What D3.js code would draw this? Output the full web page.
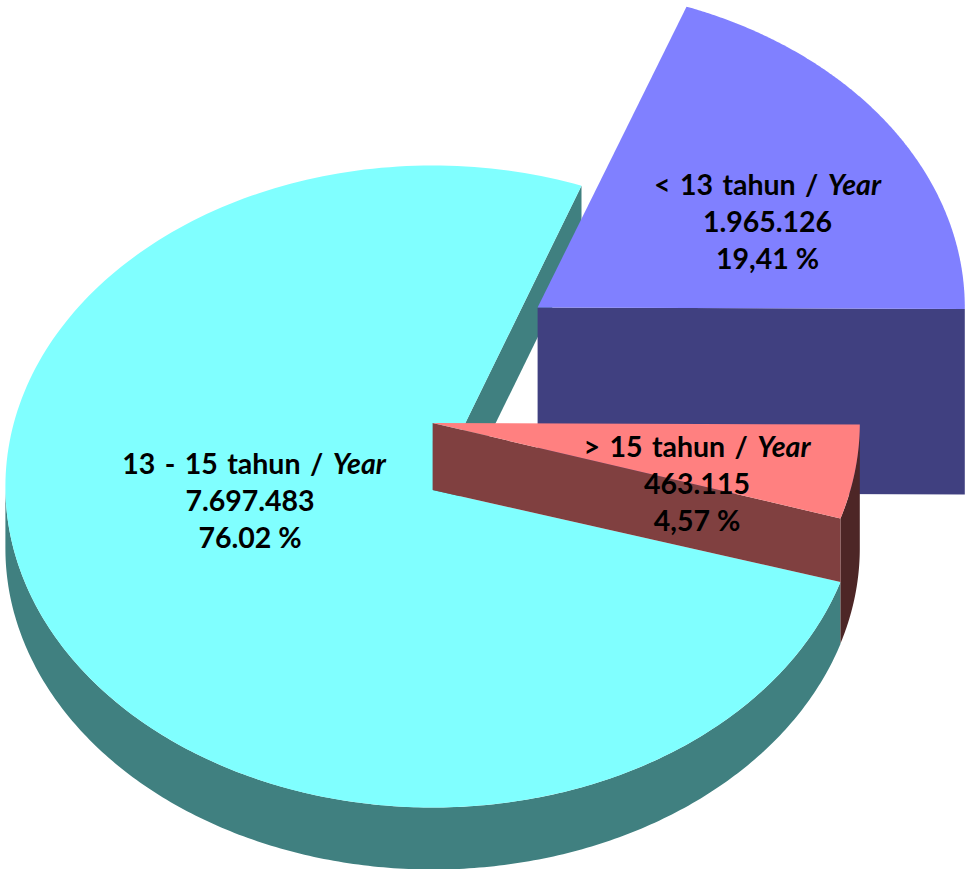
<!DOCTYPE html>
<html>
<head>
<meta charset="utf-8">
<script src="https://cdn.jsdelivr.net/npm/d3@7/dist/d3.min.js"></script>
<style>
html,body{margin:0;padding:0;background:#fff;overflow:hidden}
svg{display:block}
text{font-family:Lato,"Open Sans",sans-serif;font-weight:700;fill:#000;text-anchor:middle}
</style>
</head>
<body>
<svg id="c" width="967" height="869"></svg>
<script>
// Data, clockwise from the back cut of the blue slice
const categories = ["< 13 tahun / ", "> 15 tahun / ", "13 - 15 tahun / "];
const categorySuffix = ["Year", "Year", "Year"];
const seriesValues = [1965126, 463115, 7697483];
const valueLabels = ["1.965.126", "463.115", "7.697.483"];
const percentLabels = ["19,41 %", "4,57 %", "76.02 %"];
const topColors = ["#8080ff", "#ff8080", "#80ffff"];
const faceColors = ["#404080", "#804040", "#408080"];
const rimColors = ["#404080", "#4d2626", "#408080"];

// Layout
const W = 967, H = 869;
const CX = 432.6, CY = 486.5, RX = 427.2, RY = 321;
const START_DEG = 20.4;
const RED_CYAN_NUDGE_DEG = 0.57;   // small perspective shift of the shared red/cyan edge
const offsets = [
  {dx: 105, dy: -179, h: 185.5, apex: 0},
  {dx: 0, dy: -63.5, h: 125, apex: 0},
  {dx: 0, dy: 0, h: 62, apex: 3.5}
];
const labelPos = [[767.5, 195], [697, 457], [254, 474]];
const valueX = [767.5, 697, 250];
const FONT = 28.5, LINE = 37.2, WORD = 2.5;

const svg = d3.select("#c");
const rad = d => d * Math.PI / 180;
const pie = d3.pie().value(d => d).sort(null)
  .startAngle(rad(START_DEG)).endAngle(rad(START_DEG + 360));
const slices = pie(seriesValues);
const sharedEdge = slices[1].endAngle + rad(RED_CYAN_NUDGE_DEG);
slices[1].endAngle = sharedEdge;
slices[2].startAngle = sharedEdge;

const sx = d3.scaleLinear().domain([-1, 1]).range([CX - RX, CX + RX]);
const sy = d3.scaleLinear().domain([-1, 1]).range([CY - RY, CY + RY]);
const line = d3.line();
const rimPt = (a, o, down) => [
  sx(Math.sin(a)) + o.dx,
  sy(-Math.cos(a)) + o.dy + (down ? o.h : 0)
];
const apexPt = (o, down) => [sx(0) + o.dx, sy(0) + o.dy + o.apex + (down ? o.h : 0)];
const samples = (a0, a1) => d3.range(0, 241).map(k => a0 + (a1 - a0) * k / 240);

const topSurface = (i) => {
  const o = offsets[i];
  const pts = [apexPt(o, false)].concat(samples(slices[i].startAngle, slices[i].endAngle).map(a => rimPt(a, o, false)));
  svg.append("path").attr("d", line(pts) + "Z").attr("fill", topColors[i]);
};
const cutFace = (i, a, fill) => {
  const o = offsets[i];
  svg.append("path")
    .attr("d", line([apexPt(o, false), rimPt(a, o, false), rimPt(a, o, true), apexPt(o, true)]) + "Z")
    .attr("fill", fill);
};
const rimWall = (i, a0, a1, fill) => {
  const o = offsets[i];
  const as = samples(a0, a1);
  const pts = as.map(a => rimPt(a, o, false)).concat(as.slice().reverse().map(a => rimPt(a, o, true)));
  svg.append("path").attr("d", line(pts) + "Z").attr("fill", fill);
};

const [blue, red, cyan] = [0, 1, 2];

// Cyan: inner cut at the back, then rim, then top
cutFace(cyan, slices[cyan].endAngle, faceColors[cyan]);
rimWall(cyan, slices[cyan].startAngle, rad(270), rimColors[cyan]);
topSurface(cyan);

// Blue: exploded wedge
cutFace(blue, slices[blue].endAngle, faceColors[blue]);
topSurface(blue);

// Red: rim, cut face down to the cyan surface, then its top
rimWall(red, slices[red].startAngle, slices[red].endAngle, rimColors[red]);
const a = slices[red].endAngle;
svg.append("path")
  .attr("d", line([apexPt(offsets[red], false), rimPt(a, offsets[red], false),
                   rimPt(a, offsets[cyan], false), apexPt(offsets[cyan], false)]) + "Z")
  .attr("fill", faceColors[red]);
topSurface(red);

// Labels
categories.forEach((c, i) => {
  const [x, y] = labelPos[i];
  const t = svg.append("text").attr("x", x).attr("y", y).attr("font-size", FONT).attr("word-spacing", WORD);
  t.append("tspan").text(c);
  t.append("tspan").attr("font-style", "italic").text(categorySuffix[i]);
  svg.append("text").attr("x", valueX[i]).attr("y", y + LINE).attr("font-size", FONT).text(valueLabels[i]);
  svg.append("text").attr("x", valueX[i]).attr("y", y + 2 * LINE).attr("font-size", FONT).text(percentLabels[i]);
});
</script>
</body>
</html>
